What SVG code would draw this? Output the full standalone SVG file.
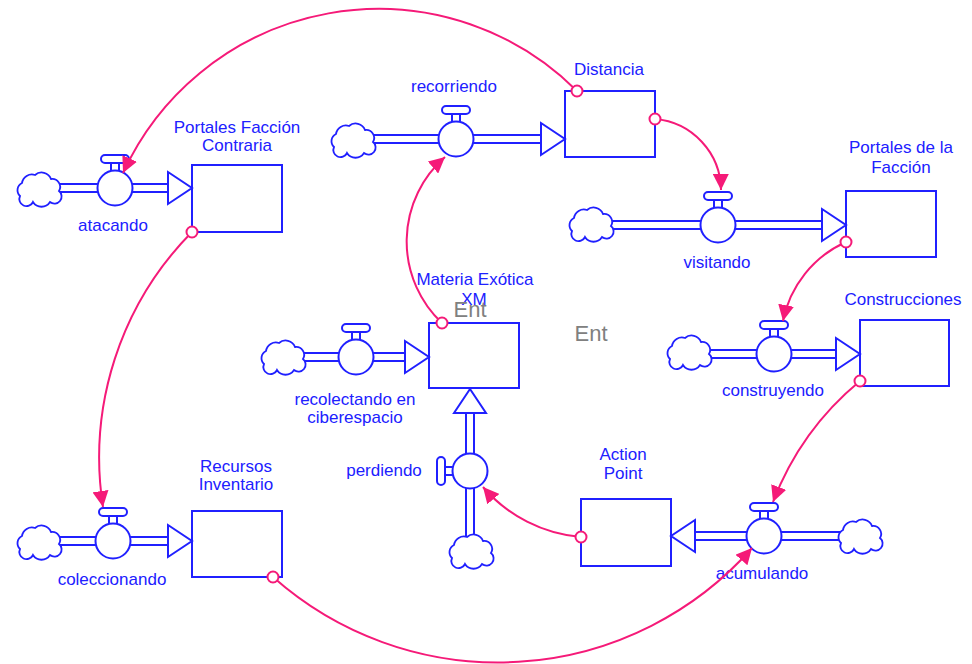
<svg xmlns="http://www.w3.org/2000/svg" xmlns:xlink="http://www.w3.org/1999/xlink" width="972" height="664" viewBox="0 0 972 664">
  <style>
    .stock { fill: #ffffff; stroke: #2020ff; stroke-width: 2; }
    .pipe-out { fill: none; stroke: #2020ff; stroke-width: 10; }
    .pipe-in { fill: none; stroke: #ffffff; stroke-width: 6; }
    .flow-head { fill: #ffffff; stroke: #2020ff; stroke-width: 2; stroke-linejoin: miter; }
    .valve circle, .valve rect { fill: #ffffff; stroke: #2020ff; stroke-width: 2; }
    .cloud { fill: #ffffff; stroke: #2020ff; stroke-width: 1.8; }
    .label { font-family: "Liberation Sans", Arial, sans-serif; font-size: 17px; fill: #2020ff; text-anchor: middle; }
    .ent { font-family: "Liberation Sans", Arial, sans-serif; font-size: 22px; fill: #808080; text-anchor: middle; }
    .link { fill: none; stroke: #f51a78; stroke-width: 2; marker-end: url(#tip); }
    .link-src { fill: #ffffff; stroke: #f51a78; stroke-width: 2; }
  </style>
  <defs>
    <marker id="tip" markerUnits="userSpaceOnUse" viewBox="0 0 16 16" refX="16" refY="8" markerWidth="16" markerHeight="16" orient="auto">
      <path d="M0,0 L16,8 L0,16 Z" fill="#f51a78"/>
    </marker>
    <!-- source/sink cloud, centred on the origin -->
    <path id="cloud" class="cloud" d="M-18,8 A8,8 0 0 1 -16,-5 A10,10 0 0 1 -3,-13 A10,10 0 0 1 13,-9 A8,8 0 0 1 21,3 A7,7 0 0 1 12,14 A10,10 0 0 1 -5,14 A7,7 0 0 1 -18,8 Z"/>
    <g id="valve" class="valve">
      <rect x="-14" y="-33" width="28" height="8" rx="4"/>
      <rect x="-4" y="-25" width="8" height="8"/>
      <circle r="17.5"/>
    </g>
  </defs>

  <rect width="972" height="664" fill="#ffffff"/>

  <!-- stocks -->
  <g id="portales-faccion-contraria">
    <rect class="stock" x="192" y="165" width="90" height="67"/>
    <text class="label" x="237" y="133">Portales Facción</text>
    <text class="label" x="237" y="151">Contraria</text>
  </g>
  <g id="distancia">
    <rect class="stock" x="565" y="91" width="90" height="66"/>
    <text class="label" x="609" y="75">Distancia</text>
  </g>
  <g id="portales-de-la-faccion">
    <rect class="stock" x="846" y="191" width="90" height="66"/>
    <text class="label" x="901" y="153">Portales de la</text>
    <text class="label" x="901" y="173">Facción</text>
  </g>
  <g id="construcciones">
    <rect class="stock" x="860" y="320" width="89" height="66"/>
    <text class="label" x="903" y="305">Construcciones</text>
  </g>
  <g id="materia-exotica">
    <rect class="stock" x="429" y="323" width="90" height="65"/>
    <text class="label" x="475" y="285">Materia Exótica</text>
    <text class="label" x="474" y="305">XM</text>
  </g>
  <g id="recursos-inventario">
    <rect class="stock" x="192" y="511" width="90" height="66"/>
    <text class="label" x="236" y="472">Recursos</text>
    <text class="label" x="236" y="490">Inventario</text>
  </g>
  <g id="action-point">
    <rect class="stock" x="581" y="499" width="90" height="67"/>
    <text class="label" x="623" y="460">Action</text>
    <text class="label" x="623" y="479">Point</text>
  </g>

  <!-- flows -->
  <g id="atacando">
    <path class="pipe-out" d="M38,188 H168"/><path class="pipe-in" d="M38,188 H168"/>
    <use xlink:href="#cloud" transform="translate(38,188)"/>
    <polygon class="flow-head" points="168,172 192,188 168,204"/>
    <use xlink:href="#valve" transform="translate(115,188)"/>
    <text class="label" x="113" y="231">atacando</text>
  </g>
  <g id="recorriendo">
    <path class="pipe-out" d="M352,139 H541"/><path class="pipe-in" d="M352,139 H541"/>
    <use xlink:href="#cloud" transform="translate(352,139)"/>
    <polygon class="flow-head" points="541,123 565,139 541,155"/>
    <use xlink:href="#valve" transform="translate(456,139)"/>
    <text class="label" x="454" y="92">recorriendo</text>
  </g>
  <g id="visitando">
    <path class="pipe-out" d="M590,225 H822"/><path class="pipe-in" d="M590,225 H822"/>
    <use xlink:href="#cloud" transform="translate(590,223)"/>
    <polygon class="flow-head" points="822,209 846,225 822,241"/>
    <use xlink:href="#valve" transform="translate(718,225)"/>
    <text class="label" x="717" y="268">visitando</text>
  </g>
  <g id="construyendo">
    <path class="pipe-out" d="M687,354 H836"/><path class="pipe-in" d="M687,354 H836"/>
    <use xlink:href="#cloud" transform="translate(688,351)"/>
    <polygon class="flow-head" points="836,338 860,354 836,370"/>
    <use xlink:href="#valve" transform="translate(774,354)"/>
    <text class="label" x="773" y="396">construyendo</text>
  </g>
  <g id="recolectando-en-ciberespacio">
    <path class="pipe-out" d="M282,357 H405"/><path class="pipe-in" d="M282,357 H405"/>
    <use xlink:href="#cloud" transform="translate(282,356)"/>
    <polygon class="flow-head" points="405,341 429,357 405,373"/>
    <use xlink:href="#valve" transform="translate(356,357)"/>
    <text class="label" x="355" y="405">recolectando en</text>
    <text class="label" x="355" y="423">ciberespacio</text>
  </g>
  <g id="coleccionando">
    <path class="pipe-out" d="M38,541 H168"/><path class="pipe-in" d="M38,541 H168"/>
    <use xlink:href="#cloud" transform="translate(38,541)"/>
    <polygon class="flow-head" points="168,525 192,541 168,557"/>
    <use xlink:href="#valve" transform="translate(113,541)"/>
    <text class="label" x="112" y="585">coleccionando</text>
  </g>
  <g id="acumulando">
    <path class="pipe-out" d="M859,536 H695"/><path class="pipe-in" d="M859,536 H695"/>
    <use xlink:href="#cloud" transform="translate(859,535)"/>
    <polygon class="flow-head" points="695,520 671,536 695,552"/>
    <use xlink:href="#valve" transform="translate(764,536)"/>
    <text class="label" x="762" y="579">acumulando</text>
  </g>
  <g id="perdiendo">
    <path class="pipe-out" d="M470,549 V413"/><path class="pipe-in" d="M470,549 V413"/>
    <use xlink:href="#cloud" transform="translate(470,550)"/>
    <polygon class="flow-head" points="454,413 470,389 486,413"/>
    <use xlink:href="#valve" transform="translate(470,471) rotate(-90)"/>
    <text class="label" x="384" y="476">perdiendo</text>
  </g>

  <!-- stray labels -->
  <g id="ent-labels">
    <text class="ent" x="470" y="317">Ent</text>
    <text class="ent" x="591" y="341">Ent</text>
  </g>

  <!-- connectors -->
  <g id="connectors">
    <path class="link" d="M577,91 A281,281 0 0 0 123,173"/>
    <path class="link" d="M192,232 A321,321 0 0 0 103,507"/>
    <path class="link" d="M655,119 A72,72 0 0 1 721,190"/>
    <path class="link" d="M846,242 A110,110 0 0 0 783,321"/>
    <path class="link" d="M860,381 A292,292 0 0 0 773,502"/>
    <path class="link" d="M442,323 A112,112 0 0 1 445,157"/>
    <path class="link" d="M581,537 A145,145 0 0 1 483,487"/>
    <path class="link" d="M273,577 A339,339 0 0 0 752,548"/>
    <circle class="link-src" cx="577" cy="91" r="5.5"/>
    <circle class="link-src" cx="192" cy="232" r="5.5"/>
    <circle class="link-src" cx="655" cy="119" r="5.5"/>
    <circle class="link-src" cx="846" cy="242" r="5.5"/>
    <circle class="link-src" cx="860" cy="381" r="5.5"/>
    <circle class="link-src" cx="442" cy="323" r="5.5"/>
    <circle class="link-src" cx="581" cy="537" r="5.5"/>
    <circle class="link-src" cx="273" cy="577" r="5.5"/>
  </g>
</svg>
